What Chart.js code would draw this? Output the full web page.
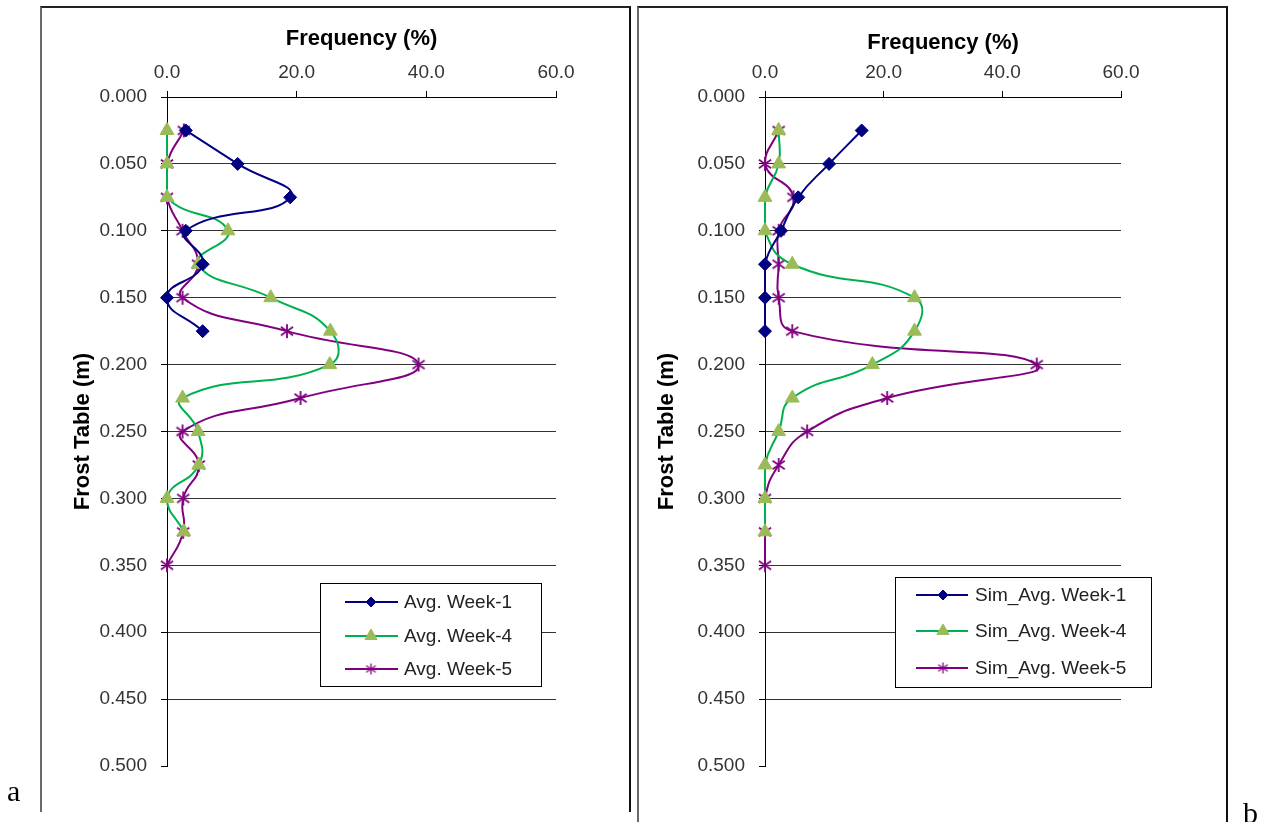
<!DOCTYPE html>
<html><head><meta charset="utf-8">
<script src="https://cdn.jsdelivr.net/npm/chart.js@4.4.0/dist/chart.umd.min.js"></script>
<style>
html,body{margin:0;padding:0;background:#fff;width:1261px;height:822px;overflow:hidden;position:relative;}
canvas{position:absolute;top:0;}
#cA{left:0}
#cB{left:634px}
.frame{position:absolute;top:6px;height:806px;border-top:2px solid #222;border-left:2px solid #6a6a6a;border-right:2px solid #111;box-sizing:border-box;pointer-events:none}
.lab{position:absolute;font-family:"Liberation Serif","Times New Roman",serif;font-size:30px;line-height:30px;color:#000;}
</style></head>
<body>
<div class="frame" style="left:40px;width:591px"></div>
<div class="frame" style="left:637px;width:591px;height:816px"></div>
<canvas id="cA" width="634" height="822"></canvas>
<canvas id="cB" width="627" height="822"></canvas>
<div class="lab" style="left:7px;top:776px">a</div>
<div class="lab" style="left:1243px;top:798px">b</div>
<script>
// ---- data ----
const depths = [0.025, 0.050, 0.075, 0.100, 0.125, 0.150, 0.175, 0.200, 0.225, 0.250, 0.275, 0.300, 0.325, 0.350];
const xTickLabels = ['0.0', '20.0', '40.0', '60.0'];
const avgWeek1 = [2.9, 10.9, 19.0, 2.9, 5.5, 0.0, 5.5];
const avgWeek4 = [0.0, 0.0, 0.0, 9.4, 4.8, 16.0, 25.2, 25.1, 2.4, 4.8, 4.9, 0.0, 2.6];
const avgWeek5 = [2.6, 0.0, 0.0, 2.4, 4.8, 2.4, 18.5, 38.8, 20.6, 2.4, 4.9, 2.5, 2.5, 0.0];
const simWeek1 = [16.3, 10.8, 5.6, 2.7, 0.0, 0.0, 0.0];
const simWeek4 = [2.3, 2.3, 0.0, 0.0, 4.6, 25.2, 25.2, 18.1, 4.6, 2.3, 0.0, 0.0, 0.0];
const simWeek5 = [2.3, 0.0, 4.8, 2.3, 2.3, 2.3, 4.6, 45.8, 20.6, 7.1, 2.3, 0.0, 0.0, 0.0];
const labelsA = ['Avg. Week-1', 'Avg. Week-4', 'Avg. Week-5'];
const labelsB = ['Sim_Avg. Week-1', 'Sim_Avg. Week-4', 'Sim_Avg. Week-5'];

const FONT = "'Liberation Sans', Arial, sans-serif";
Chart.defaults.font.family = FONT;

function makeStar(size, lw) {
  const c = document.createElement('canvas');
  c.width = size; c.height = size;
  const g = c.getContext('2d');
  g.strokeStyle = '#800080'; g.lineWidth = lw; g.lineCap = 'butt';
  const m = size / 2, r = size / 2 - 1;
  g.beginPath();
  g.moveTo(m, m - r); g.lineTo(m, m + r);
  const dx = r * 0.87, dy = r * 0.6;
  g.moveTo(m - dx, m - dy); g.lineTo(m + dx, m + dy);
  g.moveTo(m - dx, m + dy); g.lineTo(m + dx, m - dy);
  g.stroke();
  return c;
}
const starBig = makeStar(16, 1.8);
const starSmall = makeStar(13, 1.3);

const styles = [
  {line: '#000080', fill: '#000080', border: '#000080', pointStyle: 'rectRot', r: 6.5, lr: 5},
  {line: '#00B050', fill: '#9BBB59', border: '#9BBB59', pointStyle: 'triangle', r: 8, lr: 7},
  {line: '#800080', fill: '#800080', border: '#800080', pointStyle: starBig, r: 7, lr: 6, small: starSmall}
];

function drawMarker(ctx, st, x, y) {
  ctx.save();
  ctx.fillStyle = st.fill; ctx.strokeStyle = st.border; ctx.lineWidth = 1;
  if (st.pointStyle === 'rectRot') {
    const r = st.lr;
    ctx.beginPath(); ctx.moveTo(x, y - r); ctx.lineTo(x + r, y); ctx.lineTo(x, y + r); ctx.lineTo(x - r, y); ctx.closePath();
    ctx.fill(); ctx.stroke();
  } else if (st.pointStyle === 'triangle') {
    const r = st.lr;
    ctx.beginPath();
    ctx.moveTo(x, y - r);
    ctx.lineTo(x + Math.sin(2 * Math.PI / 3) * r, y + r / 2);
    ctx.lineTo(x - Math.sin(2 * Math.PI / 3) * r, y + r / 2);
    ctx.closePath(); ctx.fill(); ctx.stroke();
  } else {
    const im = st.small;
    ctx.drawImage(im, x - im.width / 2, y - im.height / 2);
  }
  ctx.restore();
}

const boxLegend = {
  id: 'boxLegend',
  afterDatasetsDraw(chart, args, o) {
    const ctx = chart.ctx;
    ctx.save();
    ctx.fillStyle = '#fff';
    ctx.fillRect(o.x, o.y, o.w, o.h);
    ctx.strokeStyle = '#000'; ctx.lineWidth = 1;
    ctx.strokeRect(o.x + 0.5, o.y + 0.5, o.w, o.h);
    chart.data.datasets.forEach((ds, i) => {
      const y = o.rows[i];
      const st = styles[i];
      ctx.strokeStyle = ds.borderColor; ctx.lineWidth = 2;
      ctx.beginPath(); ctx.moveTo(o.x0, y); ctx.lineTo(o.x1, y); ctx.stroke();
      drawMarker(ctx, st, o.mx, y);
      ctx.fillStyle = '#222';
      ctx.font = o.fontSize + 'px ' + FONT;
      ctx.textBaseline = 'middle'; ctx.textAlign = 'left';
      ctx.fillText(ds.label, o.tx, y + 1);
    });
    ctx.restore();
  }
};

function buildChart(id, series, labels, cfg) {
  const datasets = series.map((vals, i) => ({
    label: labels[i],
    data: vals.map((v, k) => ({x: v, y: depths[k]})),
    borderColor: styles[i].line,
    backgroundColor: styles[i].fill,
    pointBackgroundColor: styles[i].fill,
    pointBorderColor: styles[i].border,
    pointStyle: styles[i].pointStyle,
    pointRadius: styles[i].r,
    pointHoverRadius: styles[i].r,
    pointBorderWidth: 1,
    borderWidth: 2,
    tension: 0.5,
    fill: false,
    clip: false
  }));
  return new Chart(document.getElementById(id), {
    type: 'line',
    data: {datasets},
    options: {
      responsive: false,
      animation: false,
      devicePixelRatio: 1,
      layout: {padding: cfg.pad},
      plugins: {legend: {display: false}, tooltip: {enabled: false}, boxLegend: cfg.legend},
      scales: {
        x: {
          type: 'linear', position: 'top', min: 0, max: 60,
          ticks: {stepSize: 20, callback: (v, i) => xTickLabels[i] !== undefined ? xTickLabels[i] : v.toFixed(1),
                  font: {size: 19}, color: '#333', padding: 7, maxRotation: 0},
          grid: {drawOnChartArea: false, tickLength: 6, tickColor: '#000'},
          border: {color: '#000', width: 1},
          title: {display: true, text: 'Frequency (%)', color: '#000',
                  font: {size: 22, weight: 'bold'}, padding: {top: cfg.xTitlePad, bottom: 0}},
          afterFit: s => { s.height = 90; }
        },
        y: {
          type: 'linear', reverse: true, min: 0, max: 0.5,
          ticks: {stepSize: 0.05, callback: v => v.toFixed(3), font: {size: 19}, color: '#333', padding: 14, autoSkip: false},
          grid: {color: c => (c.tick && c.tick.value > 0.49) ? 'rgba(0,0,0,0)' : '#333',
                 tickColor: '#000', tickLength: 6, lineWidth: 1},
          border: {color: '#000', width: 1},
          title: {display: true, text: 'Frost Table (m)', color: '#000',
                  font: {size: 22, weight: 'bold'}, padding: {top: cfg.yTitlePad, bottom: 0}},
          afterFit: s => { s.width = cfg.yW; }
        }
      }
    },
    plugins: [boxLegend]
  });
}

buildChart('cA', [avgWeek1, avgWeek4, avgWeek5], labelsA, {
  pad: {left: 41, top: 7, right: 78, bottom: 56},
  yW: 126, xTitlePad: 19, yTitlePad: 29,
  legend: {x: 320, y: 583, w: 221, h: 103, x0: 345, x1: 398, mx: 371, tx: 404, rows: [602, 636, 669], fontSize: 19}
});
buildChart('cB', [simWeek1, simWeek4, simWeek5], labelsB, {
  pad: {left: 4, top: 7, right: 140, bottom: 56},
  yW: 127, xTitlePad: 23, yTitlePad: 16,
  legend: {x: 261, y: 577, w: 256, h: 110, x0: 282, x1: 334, mx: 309, tx: 341, rows: [595, 631, 668], fontSize: 19}
});
</script>
</body></html>
